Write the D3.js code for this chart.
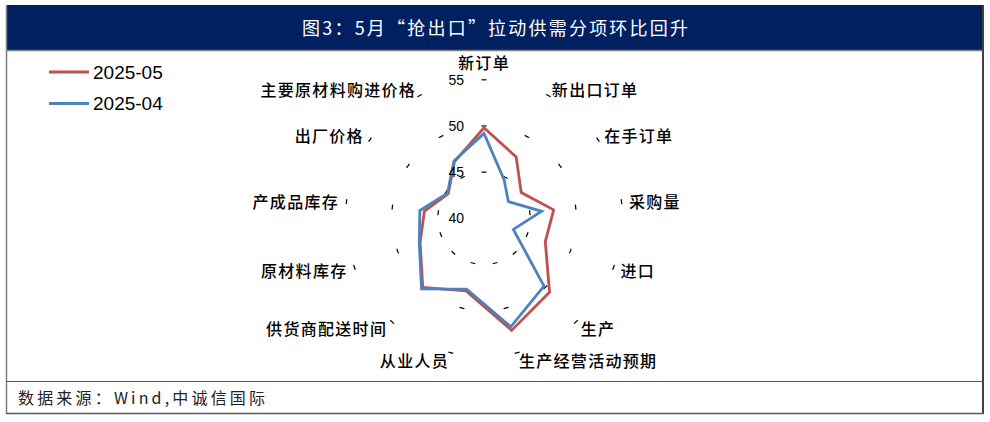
<!DOCTYPE html>
<html>
<head>
<meta charset="utf-8">
<script src="https://cdn.jsdelivr.net/npm/d3@7"></script>
<style>
    body { margin: 0; background: #fff; }
    text { font-family: "Noto Sans CJK SC", "Liberation Sans", sans-serif; }
    .num { font-family: "Liberation Sans", Arial, sans-serif; }
</style>
</head>
<body>
<svg id="chart" width="990" height="422"></svg>
<script>
// categories, clockwise from the top
var CATEGORIES = ['新订单', '新出口订单', '在手订单', '采购量', '进口', '生产',
    '生产经营活动预期', '从业人员', '供货商配送时间', '原材料库存', '产成品库存',
    '出厂价格', '主要原材料购进价格'];

var SERIES_MAY = [49.8, 47.5, 44.9, 47.6, 47.1, 50.7, 52.5, 48.1, 50.0, 47.4, 46.5, 44.7, 46.9];
var SERIES_APR = [49.2, 44.7, 43.2, 46.3, 43.4, 49.8, 52.1, 47.9, 50.2, 47.5, 47.0, 44.8, 47.0];

var SERIES_NAMES = ['2025-05', '2025-04'];
var SERIES_COLORS = ['#C0504D', '#4F81BD'];

var RADIAL_TICKS = [40, 45, 50, 55];

var TITLE = '图3：5月“抢出口”拉动供需分项环比回升';
var SOURCE = '数据来源：Wind,中诚信国际';

var svg = d3.select('#chart');

var cx = 484, cy = 218.3;

var r = d3.scaleLinear()
    .domain([40, 55])
    .range([0, 138.5]);

var angle = d3.scaleLinear()
    .domain([0, CATEGORIES.length])
    .range([0, 2 * Math.PI]);

/*
 * Frame: navy title bar, outer border and source line
 */
function drawFrame() {
    svg.append('rect')
        .attr('x', 6).attr('y', 5)
        .attr('width', 977).attr('height', 45)
        .attr('fill', '#002060');

    svg.append('line')
        .attr('x1', 6).attr('x2', 983)
        .attr('y1', 50.5).attr('y2', 50.5)
        .attr('stroke', '#7f7f7f').attr('stroke-width', 1.5);

    svg.append('line')
        .attr('x1', 6.5).attr('x2', 6.5)
        .attr('y1', 5).attr('y2', 414)
        .attr('stroke', '#7f7f7f').attr('stroke-width', 1.5);

    svg.append('line')
        .attr('x1', 983).attr('x2', 983)
        .attr('y1', 5).attr('y2', 414)
        .attr('stroke', '#404040').attr('stroke-width', 2);

    svg.append('line')
        .attr('x1', 6).attr('x2', 984)
        .attr('y1', 413.5).attr('y2', 413.5)
        .attr('stroke', '#595959').attr('stroke-width', 1.5);

    svg.append('line')
        .attr('x1', 6).attr('x2', 983)
        .attr('y1', 381.5).attr('y2', 381.5)
        .attr('stroke', '#595959').attr('stroke-width', 1);

    svg.append('text')
        .attr('x', 302).attr('y', 27)
        .attr('dominant-baseline', 'central')
        .attr('textLength', 386)
        .attr('lengthAdjust', 'spacing')
        .style('font-size', '18px')
        .style('fill', '#fff')
        .text(TITLE);

    svg.append('text')
        .attr('x', 18).attr('y', 397)
        .attr('dominant-baseline', 'central')
        .attr('textLength', 247)
        .attr('lengthAdjust', 'spacing')
        .style('font-size', '16px')
        .style('fill', '#222')
        .text(SOURCE);
}

function createLegend() {
    var legends = svg.append('g')
        .selectAll('g')
            .data(SERIES_NAMES)
        .enter().append('g')
            .attr('transform', function(d, i) {
                return 'translate(49, ' + (72 + i * 31.5) + ')';
            });

    legends.append('line')
        .attr('x1', 0).attr('x2', 40)
        .attr('stroke', function(d, i) { return SERIES_COLORS[i]; })
        .attr('stroke-width', 3);

    legends.append('text')
        .attr('class', 'num')
        .attr('x', 44)
        .attr('dominant-baseline', 'central')
        .style('font-size', '19px')
        .style('fill', '#000')
        .text(function(d) { return d; });
}

function drawRadar() {
    var g = svg.append('g')
        .attr('transform', 'translate(' + cx + ',' + cy + ')');

    // small tick marks on every spoke (no grid lines in the original)
    var tickVals = RADIAL_TICKS.slice(1);
    CATEGORIES.forEach(function(c, i) {
        var a = angle(i);
        g.selectAll(null)
            .data(tickVals)
            .enter().append('line')
            .attr('transform', function(d) {
                return 'rotate(' + (a * 180 / Math.PI) + ') translate(0,' + (-r(d)) + ')';
            })
            .attr('x1', -2.5).attr('x2', 2.5)
            .attr('stroke', '#000')
            .attr('stroke-width', 1.2);
    });

    var line = d3.lineRadial()
        .angle(function(d, i) { return angle(i); })
        .radius(function(d) { return r(d); })
        .curve(d3.curveLinearClosed);

    g.selectAll('.series')
        .data([SERIES_MAY, SERIES_APR])
        .enter().append('path')
            .attr('class', 'series')
            .attr('d', line)
            .attr('fill', 'none')
            .attr('stroke', function(d, i) { return SERIES_COLORS[i]; })
            .attr('stroke-width', 2.8);

    // radial tick labels on the top spoke
    g.selectAll('.rlabel')
        .data(RADIAL_TICKS)
        .enter().append('text')
            .attr('class', 'num rlabel')
            .attr('x', -20)
            .attr('y', function(d) { return -r(d); })
            .attr('text-anchor', 'end')
            .attr('dominant-baseline', 'central')
            .style('font-size', '14px')
            .style('fill', '#000')
            .text(function(d) { return d; });

    // category labels
    g.selectAll('.clabel')
        .data(CATEGORIES)
        .enter().append('text')
            .attr('class', 'clabel')
            .attr('x', function(d, i) {
                return i === 0 ? 0 : 146 * Math.sin(angle(i));
            })
            .attr('y', function(d, i) {
                return i === 0 ? -156 : -146 * Math.cos(angle(i));
            })
            .attr('text-anchor', function(d, i) {
                if (i === 0) return 'middle';
                return Math.sin(angle(i)) > 0 ? 'start' : 'end';
            })
            .attr('dominant-baseline', 'central')
            .style('font-size', '16px')
            .style('letter-spacing', '1.3px')
            .style('font-weight', 500)
            .style('fill', '#000')
            .text(function(d) { return d; });
}

drawFrame();
createLegend();
drawRadar();
</script>
</body>
</html>
